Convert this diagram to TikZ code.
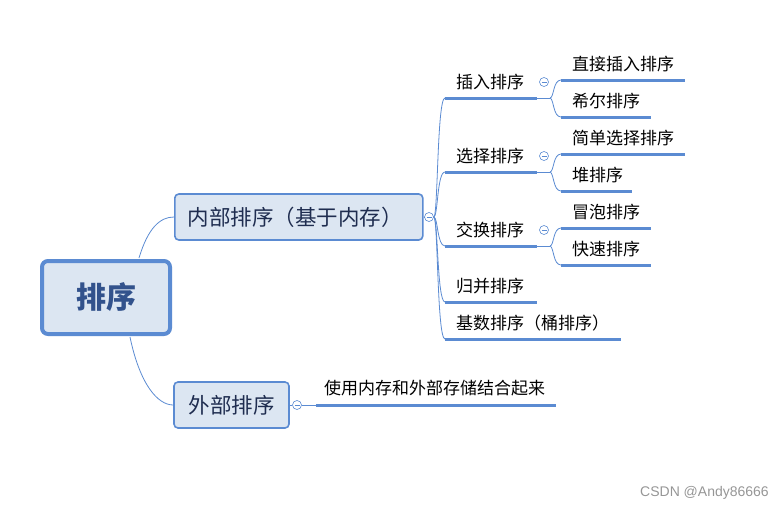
\documentclass[tikz,border=0pt]{standalone}
\usepackage{fontspec}
\usetikzlibrary{calc}
\setmainfont{Noto Sans CJK SC}
\newfontfamily\wm{Liberation Sans}
\definecolor{lb}{RGB}{91,139,210}
\definecolor{boxfill}{RGB}{220,230,242}
\definecolor{boxtext}{RGB}{31,45,80}
\definecolor{roottext}{RGB}{50,82,140}
\definecolor{wmgray}{RGB}{150,150,150}
\begin{document}
\begin{tikzpicture}[x=1pt,y=-1pt,
  thinline/.style={draw=lb,line width=0.8pt},
  uline/.style={draw=lb,line width=3pt},
  boxstyle/.style={draw=lb,fill=boxfill,rounded corners=4pt,line width=1.6pt,
     text=boxtext,font=\fontsize{21.5}{25}\selectfont},
  rootstyle/.style={draw=lb,fill=boxfill,rounded corners=6pt,line width=4pt,
     text=roottext,font=\fontsize{30}{34}\selectfont\bfseries},
  tog/.style={circle,draw=lb,line width=0.6pt,fill=white,minimum size=9pt,inner sep=0pt,
     path picture={\draw[lb,line width=0.6pt]
       ([xshift=2pt]path picture bounding box.west) -- ([xshift=-2pt]path picture bounding box.east);}},
  lab/.style={anchor=west,inner sep=0pt,font=\fontsize{17}{20}\selectfont,text=black},
]
\useasboundingbox (0,0) rectangle (784,511);
% root
\node[rootstyle,minimum width=128pt,minimum height=73pt,inner sep=0pt] (root) at (106,297.5) {排序};
% level 1 boxes
\node[boxstyle,anchor=west,minimum height=46pt,text width=222pt,align=left,inner xsep=13pt,inner ysep=0pt] (inner) at (174,217) {内部排序（基于内存）};
\node[boxstyle,minimum width=115pt,minimum height=46pt,inner sep=0pt] (outer) at (231.5,405) {外部排序};
\coordinate (rt) at (139,258);
\coordinate (rb) at (130,337);
\draw[thinline] (rt) .. controls (148,228) and (160,217) .. (inner.west);
\draw[thinline] (rb) .. controls (140,385) and (158,405) .. (outer.west);
% toggles level1
\node[tog] (tin) at (429,217) {};
\draw[thinline] (inner.east) -- (tin.west);
\node[tog] (tout) at (297,405) {};
\draw[thinline] (outer.east) -- (tout.west);
% outer child
\coordinate (os) at (316,405);
\coordinate (oe) at (556,405);
\draw[thinline] (tout.east) -- (os);
\draw[uline] (os) -- (oe);
\node[lab] (ot) at (324,388) {使用内存和外部存储结合起来};
% inner children
\coordinate (tr) at (tin.east);
\foreach \n/\y/\xe/\t in {a/98/537/插入排序, b/172/537/选择排序, c/246/537/交换排序, d/302/537/归并排序, e/339/621/基数排序（桶排序）}{
  \coordinate (\n s) at (445,\y);
  \coordinate (\n e) at (\xe,\y);
  \draw[thinline] (tr) .. controls (438,217) and (437,\y) .. (\n s);
  \draw[uline] (\n s) -- (\n e);
  \node[lab] (\n t) at (456,\y-16) {\t};
}
% sub children
\foreach \p/\ya/\xa/\ta/\yb/\xb/\tb in {a/80/685/直接插入排序/117/651/希尔排序, b/154/685/简单选择排序/191/632/堆排序, c/228/651/冒泡排序/265/651/快速排序}{
  \node[tog] (\p g) at (544,\ya+2) {};
  \coordinate (\p j) at ($(\p e)+(13,0)$);
  \draw[thinline] (\p e) -- (\p j);
  \coordinate (\p 1s) at (561,\ya);
  \coordinate (\p 1e) at (\xa,\ya);
  \coordinate (\p 2s) at (561,\yb);
  \coordinate (\p 2e) at (\xb,\yb);
  \draw[thinline] (\p j) .. controls (554,\ya+18) and (553,\ya) .. (\p 1s);
  \draw[thinline] (\p j) .. controls (554,\yb-18) and (553,\yb) .. (\p 2s);
  \draw[uline] (\p 1s) -- (\p 1e);
  \draw[uline] (\p 2s) -- (\p 2e);
  \node[lab] (\p 1t) at (572,\ya-16) {\ta};
  \node[lab] (\p 2t) at (572,\yb-16) {\tb};
}
\node[anchor=east,inner sep=0pt,font=\wm\fontsize{14}{16}\selectfont,text=wmgray] (wmk) at (769,493) {CSDN @Andy86666};
\end{tikzpicture}
\end{document}
